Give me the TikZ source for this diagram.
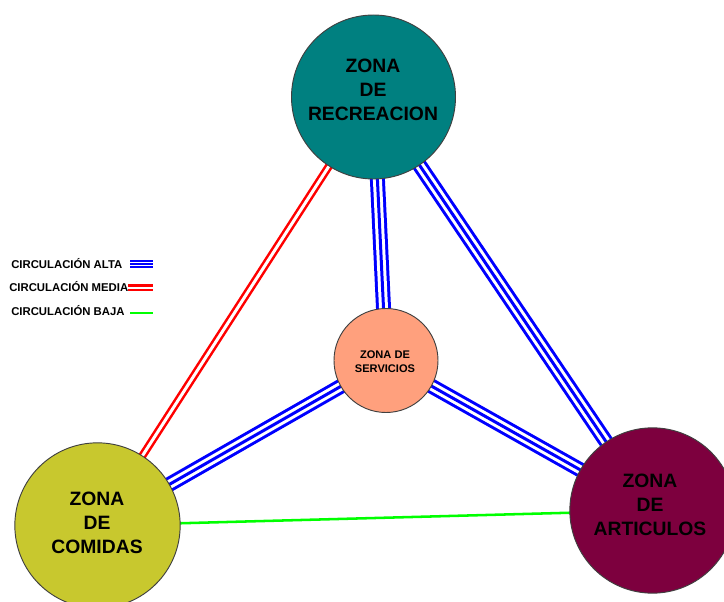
\documentclass[tikz,border=0pt]{standalone}
\usepackage{fontspec}
\setmainfont{Liberation Sans}
\usetikzlibrary{backgrounds}

\definecolor{recreacion}{RGB}{0,128,128}
\definecolor{servicios}{RGB}{255,160,125}
\definecolor{comidas}{RGB}{200,200,46}
\definecolor{articulos}{RGB}{125,0,62}

\tikzset{
  zona/.style={circle, draw=black!75, line width=0.7pt, inner sep=0pt},
  rotulo/.style={inner sep=0.75pt, align=center, font=\bfseries\fontsize{14.5}{18}\selectfont},
  alta/.style={draw=blue, line width=#1,
    postaction={draw=white, line width=0.6*#1},
    postaction={draw=blue, line width=0.2*#1}},
  alta/.default=11.25pt,
  media/.style={draw=red, double=white, double distance=2.25pt, line width=1.9pt},
  baja/.style={draw=green, line width=1.9pt},
}

\begin{document}
\begin{tikzpicture}[x=0.75pt,y=0.75pt,yscale=-1,xscale=1]
\useasboundingbox (0,0) rectangle (724,602);

%Shape: Circles
\node[zona, fill=recreacion, minimum size=123pt] (rec) at (373.5,97) {};
\node[zona, fill=servicios, minimum size=78pt] (serv) at (386,360.5) {};
\node[zona, fill=comidas, minimum size=124pt] (com) at (97.5,525.5) {};
\node[zona, fill=articulos, minimum size=124pt] (art) at (652.5,510.5) {};

%Straight Lines (under the circles)
\begin{scope}[on background layer]
\draw[media] (rec.center) -- (com.center);
\draw[alta] (rec.center) -- (serv.center);
\draw[alta] (rec.center) -- (art.center);
\draw[alta] (serv.center) -- (com.center);
\draw[alta] (serv.center) -- (art.center);
\draw[baja] (com.center) -- (art.center);
\end{scope}

% Text Node
\node[rotulo] (trec) at (373,90) {ZONA\\DE\\RECREACION};
% Text Node
\node[rotulo, font=\bfseries\fontsize{8.3}{10.5}\selectfont] (tserv) at (385,362) {ZONA DE\\SERVICIOS};
% Text Node
\node[rotulo] (tcom) at (97,522.5) {ZONA\\DE\\COMIDAS};
% Text Node
\node[rotulo] (tart) at (650,505) {ZONA\\DE\\ARTICULOS};

% Legend
\node[anchor=west, inner sep=0pt, font=\bfseries\fontsize{8.5}{10}\selectfont] (lalta) at (11,264) {CIRCULACIÓN ALTA};
\node[anchor=west, inner sep=0pt, font=\bfseries\fontsize{8.5}{10}\selectfont] (lmedia) at (9,287) {CIRCULACIÓN MEDIA};
\node[anchor=west, inner sep=0pt, font=\bfseries\fontsize{8.5}{10}\selectfont] (lbaja) at (11,311) {CIRCULACIÓN BAJA};
\draw[alta=6pt] (130,264) -- ++(23,0);
\draw[media, double distance=1.5pt, line width=1.6pt] (128,287.5) -- ++(25,0);
\draw[baja] (130,313) -- ++(23,0);
\end{tikzpicture}
\end{document}
